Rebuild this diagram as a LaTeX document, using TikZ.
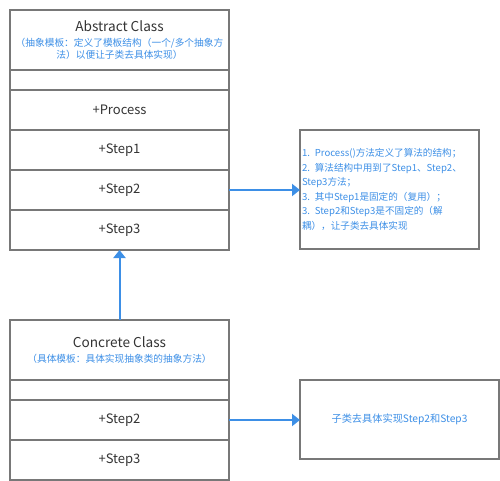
\documentclass[tikz,border=0pt]{standalone}
\usepackage{fontspec}
\setmainfont{Noto Sans CJK SC}
\usepackage{xcolor}
\usetikzlibrary{positioning,arrows.meta}
\definecolor{boxline}{HTML}{787878}
\definecolor{noteblue}{HTML}{3D8FE6}
\definecolor{classtext}{HTML}{333333}
\newcommand{\bluenote}{\color{noteblue}\fontsize{9.7}{12}\selectfont}

\begin{document}
\begin{tikzpicture}[x=1pt,y=-1pt,
   row/.style={draw=boxline,line width=1.3pt,minimum width=219pt,minimum height=40pt,inner sep=0pt,outer sep=0pt,text=classtext,font=\fontsize{13}{15}\selectfont},
   head/.style={row,minimum height=60pt,align=center,font=\fontsize{13.6}{12}\selectfont},
   blank/.style={row,minimum height=20pt},
   note/.style={draw=boxline,line width=1.3pt,inner sep=2pt,outer sep=0pt,text=noteblue,anchor=north west},
   link/.style={draw=noteblue,line width=2pt,-{Triangle[length=8pt,width=12pt]}}]
   \useasboundingbox (0,0) rectangle (500,480);
   \node[head,anchor=north west] (abstract) at (10,10) {Abstract Class\\[3pt]
      \bluenote （抽象模板：定义了模板结构（一个/多个抽象方\\
      \bluenote 法）以便让子类去具体实现）};
   \node[blank,below=0pt of abstract] (absgap) {};
   \node[row,below=0pt of absgap] (process) {+Process};
   \node[row,below=0pt of process] (step1) {+Step1};
   \node[row,below=0pt of step1] (step2) {+Step2};
   \node[row,below=0pt of step2] (step3) {+Step3};
   \node[head,anchor=north west] (concrete) at (10,320) {Concrete Class\\[3pt]
      \bluenote （具体模板：具体实现抽象类的抽象方法）};
   \node[blank,below=0pt of concrete] (congap) {};
   \node[row,below=0pt of congap] (cstep2) {+Step2};
   \node[row,below=0pt of cstep2] (cstep3) {+Step3};
   \node[note,text width=175pt,minimum height=119pt,align=left,font=\fontsize{9.6}{14.6}\selectfont] (explain) at (300,130) {1. Process()方法定义了算法的结构；\\
      2. 算法结构中用到了Step1、Step2、\\
      Step3方法；\\
      3. 其中Step1是固定的（复用）；\\
      3. Step2和Step3是不固定的（解\\
      耦），让子类去具体实现};
   \node[note,minimum width=199pt,minimum height=79pt,font=\fontsize{10.2}{12}\selectfont] (impl) at (300,380) {子类去具体实现Step2和Step3};
   \draw[link] (concrete.north) -- (step3.south);
   \draw[link] (step2.east) -- (step2.east -| explain.west);
   \draw[link] (cstep2.east) -- (cstep2.east -| impl.west);
\end{tikzpicture}
\end{document}
